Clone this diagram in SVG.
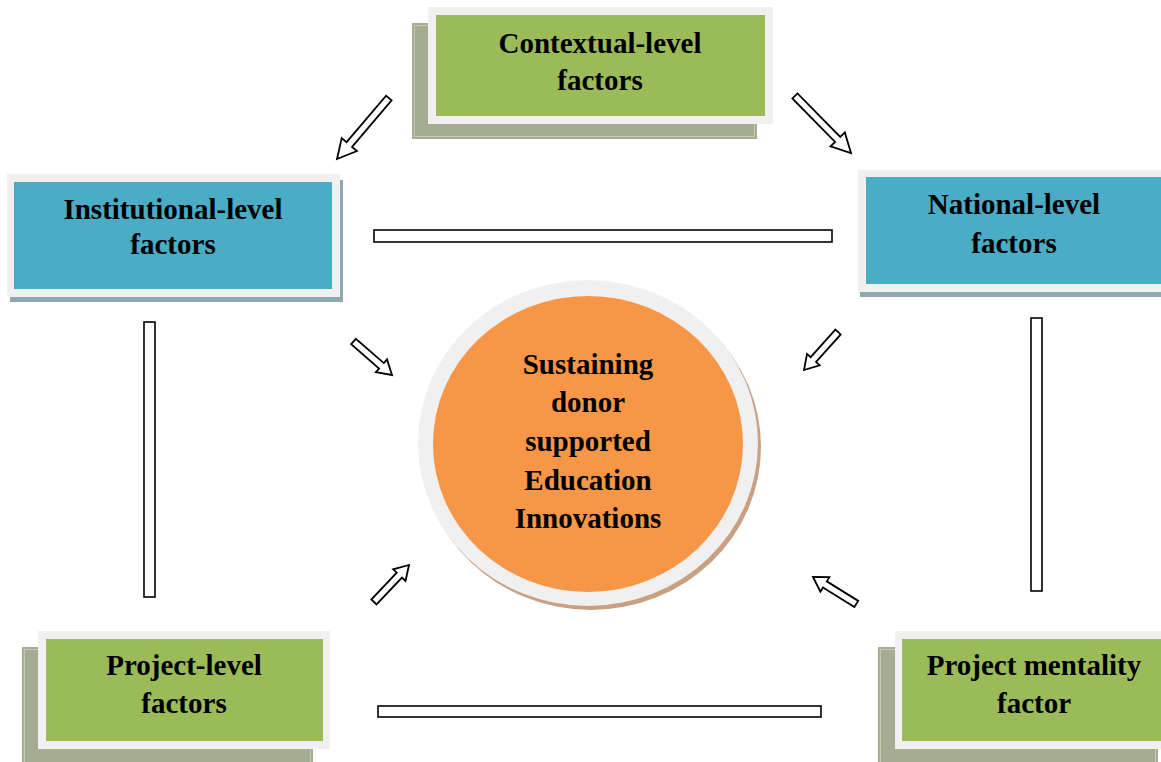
<svg xmlns="http://www.w3.org/2000/svg" width="1161" height="762" viewBox="0 0 1161 762">
  <style>
    .frame { fill: #f0f0f0; }
    .green { fill: #9bbb59; }
    .blue { fill: #4bacc6; }
    .shadow-g { fill: #a6ac92; }
    .shadow-g-line { fill: none; stroke: #c4c8b4; stroke-width: 1; }
    .shadow-b { fill: #8fa8b0; }
    .label { font-family: "Liberation Serif", "Times New Roman", serif; font-weight: bold; font-size: 29px; fill: #000; text-anchor: middle; }
    .bar { fill: #fff; stroke: #000; stroke-width: 1.6; }
    .arrow { fill: #fff; stroke: #000; stroke-width: 1.8; stroke-linejoin: miter; }
  </style>
  <defs>
    <!-- hollow block arrows, tip at origin pointing along +x -->
    <path id="arrow-long" d="M0,0 L-19,-10 L-19,-3.6 L-80,-3.6 L-80,3.6 L-19,3.6 L-19,10 Z"/>
    <path id="arrow-short" d="M0,0 L-14,-8.5 L-14,-3.6 L-51,-3.6 L-51,3.6 L-14,3.6 L-14,8.5 Z"/>
  </defs>

  <rect width="1161" height="762" fill="#ffffff"/>

  <!-- connectors -->
  <g id="connectors">
    <rect class="bar" x="374" y="230" width="458" height="12"/>
    <rect class="bar" x="378" y="706" width="443" height="11"/>
    <rect class="bar" x="144" y="322" width="11" height="275"/>
    <rect class="bar" x="1031" y="318" width="11" height="273"/>

    <use href="#arrow-long" class="arrow" transform="translate(337,159) rotate(130.4)"/>
    <use href="#arrow-long" class="arrow" transform="translate(851,153) rotate(45.5)"/>
    <use href="#arrow-short" class="arrow" transform="translate(392,375) rotate(41)"/>
    <use href="#arrow-short" class="arrow" transform="translate(804,370) rotate(131.9)"/>
    <use href="#arrow-short" class="arrow" transform="translate(409,565) rotate(-46.5)"/>
    <use href="#arrow-short" class="arrow" transform="translate(813,577) rotate(-148.1)"/>
  </g>

  <!-- Contextual-level factors -->
  <g id="contextual">
    <rect class="shadow-g" x="412" y="23" width="345" height="116"/>
    <rect class="shadow-g-line" x="414.5" y="25.5" width="340" height="111"/>
    <rect class="frame" x="428" y="7" width="345" height="117"/>
    <rect class="green" x="436" y="15" width="329" height="101"/>
    <text class="label" x="600" y="53">Contextual-level</text>
    <text class="label" x="600" y="90">factors</text>
  </g>

  <!-- Institutional-level factors -->
  <g id="institutional">
    <rect class="shadow-b" x="10" y="180" width="333" height="122"/>
    <rect class="frame" x="7" y="174" width="333" height="123"/>
    <rect class="blue" x="14" y="182" width="318" height="107"/>
    <text class="label" x="173" y="219">Institutional-level</text>
    <text class="label" x="173" y="254">factors</text>
  </g>

  <!-- National-level factors -->
  <g id="national">
    <rect class="shadow-b" x="860" y="176" width="310" height="121"/>
    <rect class="frame" x="858" y="170" width="310" height="122"/>
    <rect class="blue" x="866" y="177" width="300" height="107"/>
    <text class="label" x="1014" y="214">National-level</text>
    <text class="label" x="1014" y="253">factors</text>
  </g>

  <!-- Project-level factors -->
  <g id="project-level">
    <rect class="shadow-g" x="22" y="647" width="291" height="125"/>
    <rect class="shadow-g-line" x="24.5" y="649.5" width="286" height="120"/>
    <rect class="frame" x="38" y="631" width="292" height="118"/>
    <rect class="green" x="46" y="639" width="277" height="102"/>
    <text class="label" x="184" y="675">Project-level</text>
    <text class="label" x="184" y="713">factors</text>
  </g>

  <!-- Project mentality factor -->
  <g id="project-mentality">
    <rect class="shadow-g" x="878" y="647" width="280" height="125"/>
    <rect class="shadow-g-line" x="880.5" y="649.5" width="275" height="120"/>
    <rect class="frame" x="895" y="631" width="280" height="118"/>
    <rect class="green" x="902" y="639" width="270" height="102"/>
    <text class="label" x="1034" y="675">Project mentality</text>
    <text class="label" x="1034" y="713">factor</text>
  </g>

  <!-- central outcome -->
  <g id="outcome">
    <ellipse cx="591" cy="447" rx="170" ry="163" fill="#c9a182"/>
    <ellipse cx="588" cy="443" rx="170" ry="163" fill="#f0f0f0"/>
    <ellipse cx="588" cy="444" rx="155" ry="148" fill="#f79646"/>
    <text class="label" x="588" y="374">Sustaining</text>
    <text class="label" x="588" y="412">donor</text>
    <text class="label" x="588" y="451">supported</text>
    <text class="label" x="588" y="490">Education</text>
    <text class="label" x="588" y="528">Innovations</text>
  </g>
</svg>
